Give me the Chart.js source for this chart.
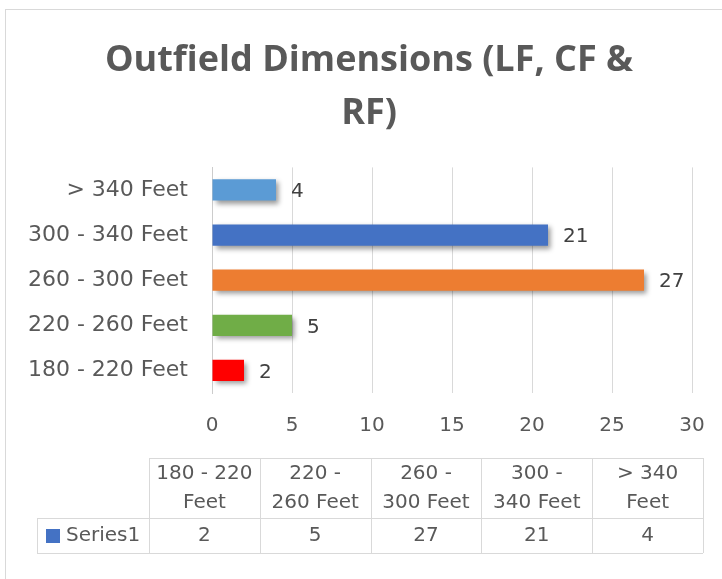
<!DOCTYPE html>
<html>
<head>
<meta charset="utf-8">
<script src="https://cdn.jsdelivr.net/npm/chart.js@4/dist/chart.umd.min.js"></script>
<style>
  html, body { margin: 0; padding: 0; background: #fff; }
  #wrap { position: relative; width: 722px; height: 579px; }
</style>
</head>
<body>
<div id="wrap"><canvas id="chart" width="722" height="579"></canvas></div>
<script>
const categories = ['180 - 220 Feet', '220 - 260 Feet', '260 - 300 Feet', '300 - 340 Feet', '> 340 Feet'];
const seriesValues = [2, 5, 27, 21, 4];
const barColors = ['#FF0000', '#70AD47', '#ED7D31', '#4472C4', '#5B9BD5'];
const tableHeaders = [['180 - 220', 'Feet'], ['220 -', '260 Feet'], ['260 -', '300 Feet'], ['300 -', '340 Feet'], ['> 340', 'Feet']];
const seriesName = 'Series1';
const titleLines = ['Outfield Dimensions (LF, CF &', 'RF)'];

const FONT = "'DejaVu Sans', sans-serif";
const TEXT = '#595959';
const GRID = '#d9d9d9';

const frame = {
    id: 'frame',
    beforeDraw(chart) {
        const ctx = chart.ctx;
        ctx.save();
        ctx.strokeStyle = GRID;
        ctx.lineWidth = 1;
        ctx.strokeRect(5.5, 9.5, 800, 700);
        ctx.restore();
    },
};

const barShadow = {
    id: 'barShadow',
    beforeDatasetsDraw(chart) {
        const ctx = chart.ctx;
        ctx.save();
        ctx.shadowColor = 'rgba(0,0,0,0.4)';
        ctx.shadowBlur = 5;
        ctx.shadowOffsetX = 3;
        ctx.shadowOffsetY = 3;
    },
    afterDatasetsDraw(chart) {
        chart.ctx.restore();
    },
};

const valueLabels = {
    id: 'valueLabels',
    afterDatasetsDraw(chart) {
        const ctx = chart.ctx;
        const meta = chart.getDatasetMeta(0);
        ctx.save();
        ctx.font = '20px ' + FONT;
        ctx.fillStyle = '#404040';
        ctx.textAlign = 'left';
        ctx.textBaseline = 'middle';
        meta.data.forEach((bar, i) => {
            ctx.fillText(String(seriesValues[i]), bar.x + 15, bar.y + 2);
        });
        ctx.restore();
    },
};

const dataTable = {
    id: 'dataTable',
    afterDraw(chart) {
        const ctx = chart.ctx;
        const left = 37, firstCol = 149, right = 703;
        const top = 458, mid = 518, bottom = 553;
        const colW = (right - firstCol) / categories.length;
        ctx.save();
        ctx.strokeStyle = GRID;
        ctx.lineWidth = 1;
        ctx.beginPath();
        ctx.moveTo(firstCol, top + 0.5); ctx.lineTo(right, top + 0.5);
        ctx.moveTo(left, mid + 0.5); ctx.lineTo(right, mid + 0.5);
        ctx.moveTo(left, bottom + 0.5); ctx.lineTo(right, bottom + 0.5);
        ctx.moveTo(left + 0.5, mid); ctx.lineTo(left + 0.5, bottom);
        for (let i = 0; i <= categories.length; i++) {
            const x = Math.round(firstCol + i * colW) + 0.5;
            ctx.moveTo(x, top); ctx.lineTo(x, bottom);
        }
        ctx.stroke();

        ctx.font = '20px ' + FONT;
        ctx.fillStyle = TEXT;
        ctx.textAlign = 'center';
        ctx.textBaseline = 'middle';
        tableHeaders.forEach((lines, i) => {
            const cx = firstCol + (i + 0.5) * colW;
            lines.forEach((t, j) => ctx.fillText(t, cx, top + 16 + j * 29));
            ctx.fillText(String(seriesValues[i]), cx, mid + 18);
        });

        ctx.fillStyle = '#4472C4';
        ctx.fillRect(46, 529, 14, 14);
        ctx.fillStyle = TEXT;
        ctx.textAlign = 'left';
        ctx.fillText(seriesName, 66, mid + 18);
        ctx.restore();
    },
};

new Chart(document.getElementById('chart'), {
    type: 'bar',
    data: {
        labels: categories,
        datasets: [{
            label: seriesName,
            data: seriesValues,
            backgroundColor: barColors,
            borderWidth: 0,
            barPercentage: 0.47,
            categoryPercentage: 1,
        }],
    },
    options: {
        indexAxis: 'y',
        responsive: false,
        animation: false,
        events: [],
        layout: { padding: { left: 16, right: 0, top: 0, bottom: 126 } },
        plugins: {
            legend: { display: false },
            tooltip: { enabled: false },
            title: {
                display: true,
                text: titleLines,
                color: TEXT,
                font: { family: "'Open Sans', sans-serif", size: 36, weight: 'bold', lineHeight: 1.45 },
                padding: { top: 35, bottom: 28 },
            },
        },
        scales: {
            x: {
                min: 0,
                max: 30,
                ticks: { stepSize: 5, color: TEXT, padding: 21, font: { family: FONT, size: 20 } },
                grid: { color: GRID, drawTicks: false },
                border: { display: false },
                afterFit(scale) {
                    scale.height = 60;
                    scale.paddingRight = 30;
                },
            },
            y: {
                reverse: true,
                ticks: { color: TEXT, padding: 24, font: { family: FONT, size: 22 } },
                grid: { display: false, drawTicks: false },
                border: { display: true, color: '#cccccc' },
                afterFit(scale) { scale.width = 196; },
            },
        },
    },
    plugins: [frame, barShadow, valueLabels, dataTable],
});
</script>
</body>
</html>
